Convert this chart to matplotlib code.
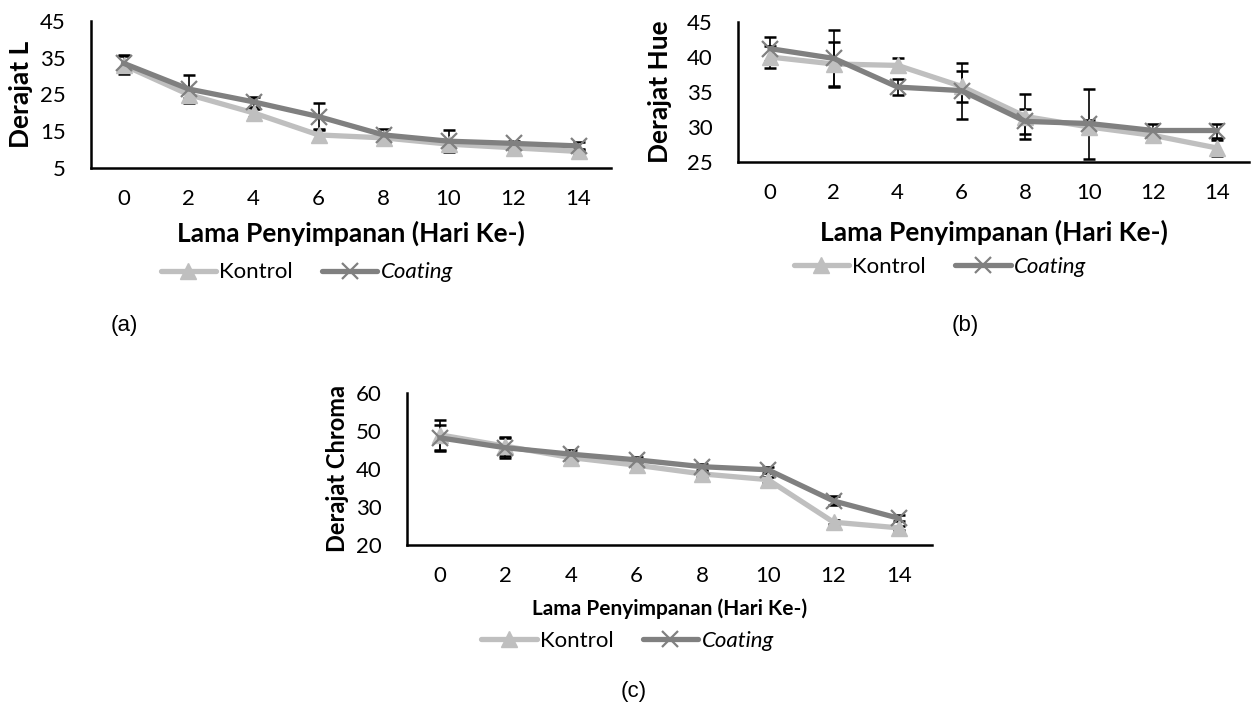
import matplotlib
matplotlib.use("Agg")
import matplotlib.pyplot as plt
import numpy as np

# storage day (Hari Ke-)
days = ["0", "2", "4", "6", "8", "10", "12", "14"]

# (a) Derajat L
L_kontrol = [33.0, 25.0, 20.0, 14.0, 13.2, 11.5, 10.5, 9.5]
L_coating = [33.5, 26.5, 23.0, 19.0, 14.0, 12.3, 11.7, 11.0]
L_kontrol_err = [2.5, 1.0, 1.0, 1.5, 1.0, 1.0, 0.6, 0.6]
L_coating_err = [2.3, 3.8, 1.4, 3.7, 1.5, 3.0, 0.6, 1.0]

# (b) Derajat Hue
H_kontrol = [40.0, 39.0, 38.8, 35.8, 31.5, 30.0, 28.8, 27.0]
H_coating = [41.2, 39.8, 35.7, 35.2, 30.8, 30.5, 29.5, 29.5]
H_kontrol_err = [1.6, 3.2, 1.0, 2.2, 3.2, 1.0, 0.8, 1.2]
H_coating_err = [1.7, 4.1, 1.1, 4.0, 1.8, 5.0, 1.0, 1.0]

# (c) Derajat Chroma
C_kontrol = [49.0, 46.0, 43.0, 41.0, 38.7, 37.2, 26.0, 24.5]
C_coating = [48.2, 45.6, 43.9, 42.4, 40.6, 39.8, 31.6, 27.0]
C_kontrol_err = [4.0, 2.5, 1.0, 0.8, 0.8, 0.8, 0.6, 0.6]
C_coating_err = [3.5, 2.6, 1.2, 0.8, 0.8, 0.8, 1.2, 0.8]

LIGHT = "#bfbfbf"
DARK = "#808080"
FONT = "Lato"

W, H = 1251, 715
fig = plt.figure(figsize=(W / 100, H / 100), dpi=100)
fig.patch.set_facecolor("white")


def px_axes(left, right, top, bottom):
    return fig.add_axes([left / W, 1 - bottom / H, (right - left) / W, (bottom - top) / H])


def panel(ax, k, c, ke, ce, ylim, yticks, ylabel, xl_size, yl_size,
          ylab_x, xlab_y, leg_x, leg_y):
    x = np.arange(len(days))
    ax.errorbar(x, k, yerr=ke, fmt="none", ecolor="black", elinewidth=1.2,
                capsize=4, capthick=1.8, zorder=1)
    ax.errorbar(x, c, yerr=ce, fmt="none", ecolor="black", elinewidth=1.2,
                capsize=4, capthick=1.8, zorder=1)
    ax.plot(x, k, color=LIGHT, lw=3.8, marker="^", ms=12, mec=LIGHT, mfc=LIGHT,
            label="Kontrol", zorder=2, solid_capstyle="round")
    ax.plot(x, c, color=DARK, lw=3.8, marker="x", ms=12, mew=1.6, mec=DARK,
            label="Coating", zorder=3, solid_capstyle="round")
    ax.set_xlim(-0.5, len(days) - 0.5)
    ax.set_ylim(*ylim)
    ax.set_yticks(yticks)
    ax.set_xticks(x)
    ax.set_xticklabels(days)
    for s in ["top", "right"]:
        ax.spines[s].set_visible(False)
    for s in ["left", "bottom"]:
        ax.spines[s].set_linewidth(1.8)
        ax.spines[s].set_color("black")
    ax.tick_params(axis="both", length=0, labelsize=16, pad=15)
    ax.tick_params(axis="y", pad=18)
    for t in ax.get_xticklabels() + ax.get_yticklabels():
        t.set_fontfamily(FONT)
    ax.set_xlabel("Lama Penyimpanan (Hari Ke-)", fontsize=xl_size,
                  fontweight="bold", fontfamily=FONT)
    ax.xaxis.set_label_coords(0.5, xlab_y)
    ax.xaxis.label.set_va("center")
    ax.set_ylabel(ylabel, fontsize=yl_size, fontweight="bold", fontfamily=FONT)
    ax.yaxis.set_label_coords(ylab_x, 0.5)
    ax.yaxis.label.set_va("center")
    leg = ax.legend(loc="center", bbox_to_anchor=(leg_x, leg_y), ncol=2,
                    frameon=False, handlelength=2.5, columnspacing=1.3,
                    handletextpad=0.15, prop={"family": FONT, "size": 16})
    leg.get_texts()[1].set_fontstyle("italic")


# (a)
ax1 = px_axes(91, 611, 21, 168)
panel(ax1, L_kontrol, L_coating, L_kontrol_err, L_coating_err,
      (5, 45), [5, 15, 25, 35, 45], "Derajat L", 19, 19,
      -0.134, -0.442, 0.415, -0.71)

# (b)
ax2 = px_axes(738, 1249, 22, 162)
panel(ax2, H_kontrol, H_coating, H_kontrol_err, H_coating_err,
      (25, 45), [25, 30, 35, 40, 45], "Derajat Hue", 19, 19,
      -0.152, -0.5, 0.395, -0.75)

# (c)
ax3 = px_axes(407, 932, 393, 545)
panel(ax3, C_kontrol, C_coating, C_kontrol_err, C_coating_err,
      (20, 60), [20, 30, 40, 50, 60], "Derajat Chroma", 15, 17,
      -0.132, -0.42, 0.42, -0.63)

sub = dict(fontsize=16, fontfamily="Liberation Sans", ha="center", va="center")
fig.text(124 / W, 1 - 326 / H, "(a)", **sub)
fig.text(965 / W, 1 - 326 / H, "(b)", **sub)
fig.text(634 / W, 1 - 692 / H, "(c)", **sub)

fig.savefig("out.png", dpi=100, facecolor="white")
